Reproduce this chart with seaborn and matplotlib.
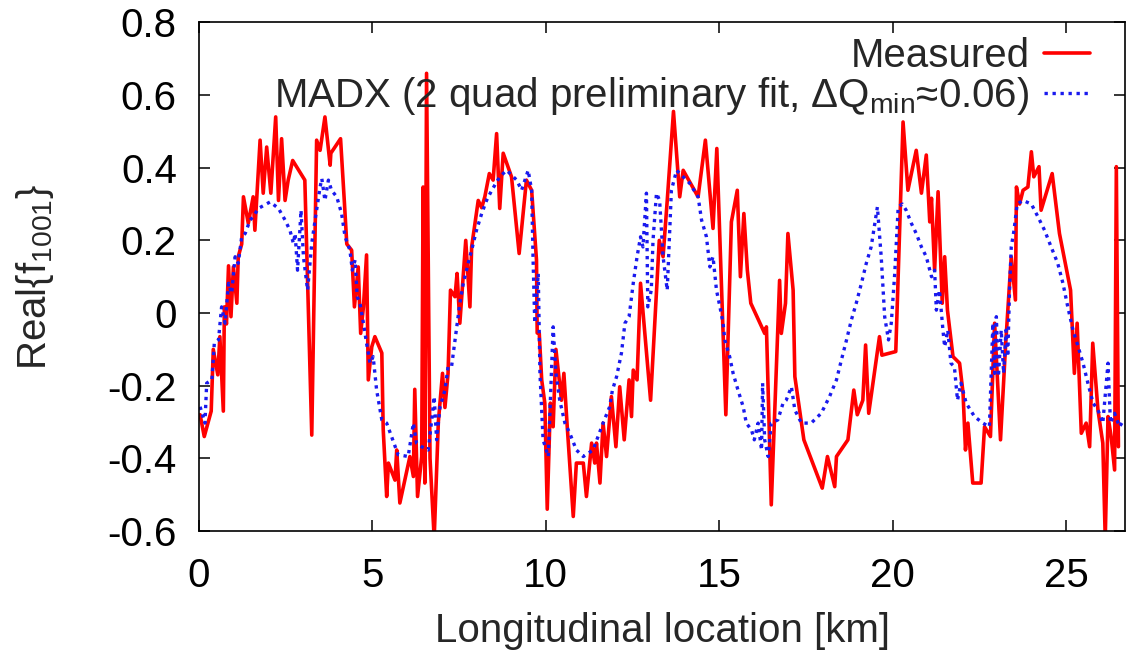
import matplotlib
matplotlib.use("Agg")
import matplotlib.pyplot as plt
import seaborn as sns
import pandas as pd
from matplotlib.ticker import FuncFormatter

# Measured coupling term along the ring
meas_s = [0.03, 0.15, 0.35, 0.41, 0.54, 0.60, 0.70, 0.73, 0.79, 0.85, 0.92, 0.99, 1.09, 1.13,
          1.23, 1.28, 1.42, 1.56, 1.61, 1.76, 1.85, 1.95, 2.07, 2.21, 2.29, 2.38, 2.48, 2.57,
          2.70, 3.05, 3.25, 3.39, 3.49, 3.63, 3.78, 3.80, 4.08, 4.19, 4.26, 4.40, 4.48, 4.59,
          4.66, 4.74, 4.83, 4.88, 4.98, 5.07, 5.27, 5.31, 5.41, 5.46, 5.65, 5.70, 5.79, 6.08,
          6.18, 6.22, 6.30, 6.42, 6.46, 6.51, 6.56, 6.66, 6.78, 6.90, 7.02, 7.09, 7.18, 7.25,
          7.38, 7.44, 7.52, 7.69, 7.81, 7.86, 8.05, 8.15, 8.24, 8.37, 8.48, 8.58, 8.67, 8.77,
          9.01, 9.23, 9.44, 9.59, 9.73, 9.75, 9.81, 9.88, 9.97, 10.04, 10.13, 10.21, 10.29,
          10.45, 10.52, 10.61, 10.79, 10.88, 11.08, 11.17, 11.32, 11.41, 11.46, 11.56, 11.65,
          11.75, 11.89, 12.02, 12.13, 12.26, 12.40, 12.47, 12.52, 12.63, 12.73, 13.02, 13.27,
          13.38, 13.50, 13.68, 13.86, 13.96, 14.39, 14.60, 14.82, 14.93, 15.19, 15.35, 15.52,
          15.61, 15.71, 15.81, 15.91, 16.31, 16.36, 16.50, 16.74, 16.79, 16.91, 16.98, 17.13,
          17.18, 17.44, 17.97, 18.12, 18.33, 18.38, 18.71, 18.88, 18.98, 19.14, 19.22, 19.31,
          19.62, 19.69, 20.09, 20.30, 20.44, 20.68, 20.83, 20.97, 21.07, 21.12, 21.21, 21.31,
          21.43, 21.50, 21.58, 21.74, 21.93, 22.03, 22.10, 22.17, 22.31, 22.55, 22.65, 22.82,
          22.94, 23.11, 23.26, 23.42, 23.54, 23.57, 23.66, 23.76, 23.90, 24.00, 24.07, 24.22,
          24.28, 24.60, 24.81, 25.13, 25.24, 25.32, 25.44, 25.58, 25.68, 25.77, 25.92, 26.06,
          26.13, 26.21, 26.30, 26.40, 26.45, 26.51]
meas_re = [-0.28, -0.34, -0.27, -0.10, -0.17, -0.065, -0.27, 0.017, -0.03, 0.13, -0.01, 0.127,
           0.027, 0.155, 0.19, 0.32, 0.247, 0.32, 0.228, 0.476, 0.33, 0.457, 0.33, 0.54, 0.31,
           0.48, 0.31, 0.366, 0.42, 0.366, -0.336, 0.476, 0.448, 0.54, 0.407, 0.44, 0.48, 0.306,
           0.19, 0.173, 0.017, 0.127, -0.056, 0.017, 0.16, -0.184, -0.093, -0.065, -0.11, -0.32,
           -0.505, -0.413, -0.46, -0.377, -0.523, -0.395, -0.45, -0.21, -0.505, -0.395, 0.347,
           -0.468, 0.66, -0.40, -0.62, -0.30, -0.166, -0.26, -0.166, 0.063, 0.045, 0.109, -0.028,
           0.20, 0.017, 0.182, 0.31, 0.29, 0.32, 0.384, 0.366, 0.494, 0.288, 0.44, 0.375, 0.164,
           0.366, 0.338, 0.146, -0.055, -0.056, -0.184, -0.248, -0.54, -0.248, -0.313, -0.10,
           -0.24, -0.166, -0.303, -0.56, -0.413, -0.413, -0.505, -0.358, -0.413, -0.358, -0.468,
           -0.303, -0.395, -0.23, -0.368, -0.203, -0.349, -0.184, -0.285, -0.157, -0.184, 0.082,
           -0.24, 0.20, 0.155, 0.31, 0.555, 0.32, 0.393, 0.32, 0.476, 0.233, 0.453, -0.28, 0.251,
           0.338, 0.10, 0.274, 0.118, 0.027, -0.056, -0.038, -0.528, 0.09, -0.056, 0.027, 0.219,
           0.063, -0.175, -0.349, -0.482, -0.395, -0.478, -0.395, -0.349, -0.212, -0.28, -0.24,
           -0.088, -0.276, -0.065, -0.116, -0.106, 0.526, 0.338, 0.448, 0.33, 0.435, 0.251, 0.316,
           0.118, 0.334, 0.027, 0.155, 0.008, -0.12, -0.138, -0.22, -0.377, -0.303, -0.468,
           -0.468, -0.313, -0.34, -0.028, -0.349, -0.083, 0.155, 0.036, 0.347, 0.30, 0.338, 0.347,
           0.444, 0.375, 0.403, 0.283, 0.384, 0.219, 0.063, -0.166, -0.028, -0.331, -0.303,
           -0.368, -0.083, -0.267, -0.358, -0.62, -0.285, -0.34, -0.432, 0.403, -0.368]

# MADX model prediction
madx_s = [0.03, 0.17, 0.22, 0.37, 0.44, 0.56, 0.65, 0.75, 0.85, 0.94, 1.04, 1.13, 1.23, 1.33,
          1.47, 1.56, 1.71, 2.05, 2.29, 2.48, 2.62, 2.72, 2.77, 2.84, 2.94, 3.01, 3.13, 3.25,
          3.36, 3.49, 3.54, 3.63, 3.73, 3.82, 3.97, 4.11, 4.21, 4.35, 4.42, 4.50, 4.56, 4.64,
          4.74, 4.83, 4.93, 5.02, 5.12, 5.27, 5.41, 5.55, 5.74, 6.03, 6.18, 6.27, 6.42, 6.61,
          6.72, 6.78, 6.85, 6.95, 7.09, 7.18, 7.28, 7.43, 7.52, 7.62, 7.76, 7.86, 8.00, 8.15,
          8.29, 8.44, 8.67, 8.87, 9.16, 9.30, 9.49, 9.59, 9.63, 9.68, 9.78, 9.83, 9.92, 10.07,
          10.21, 10.29, 10.40, 10.55, 10.69, 10.88, 11.08, 11.36, 11.65, 11.84, 11.92, 12.04,
          12.18, 12.28, 12.40, 12.52, 12.63, 12.73, 12.80, 12.90, 12.94, 13.04, 13.09, 13.19,
          13.28, 13.38, 13.50, 13.62, 13.77, 13.96, 14.15, 14.39, 14.49, 14.63, 14.73, 14.82,
          14.92, 15.02, 15.11, 15.16, 15.30, 15.40, 15.54, 15.69, 15.78, 15.93, 16.01, 16.12,
          16.22, 16.25, 16.31, 16.41, 16.50, 16.69, 16.84, 16.93, 17.08, 17.18, 17.37, 17.65,
          17.94, 18.18, 18.38, 18.52, 18.67, 18.81, 18.95, 19.10, 19.24, 19.38, 19.56, 19.67,
          19.77, 19.88, 19.96, 20.06, 20.16, 20.28, 20.39, 20.54, 20.68, 20.83, 20.97, 21.12,
          21.21, 21.26, 21.35, 21.45, 21.50, 21.59, 21.68, 21.78, 21.87, 21.97, 22.12, 22.36,
          22.60, 22.79, 22.89, 22.94, 22.99, 23.05, 23.13, 23.20, 23.27, 23.32, 23.37, 23.42,
          23.50, 23.59, 23.76, 24.00, 24.19, 24.38, 24.57, 24.76, 24.91, 25.05, 25.20, 25.35,
          25.49, 25.63, 25.78, 25.92, 26.06, 26.21, 26.28, 26.40, 26.54, 26.67]
madx_re = [-0.258, -0.303, -0.193, -0.184, -0.083, -0.074, 0.017, -0.028, 0.082, 0.054, 0.155,
           0.137, 0.21, 0.219, 0.256, 0.265, 0.288, 0.306, 0.288, 0.256, 0.228, 0.192, 0.219,
           0.118, 0.283, 0.155, 0.063, 0.192, 0.265, 0.347, 0.37, 0.31, 0.366, 0.338, 0.32,
           0.274, 0.21, 0.173, 0.118, 0.146, 0.045, 0.027, -0.028, -0.083, -0.138, -0.12,
           -0.212, -0.294, -0.303, -0.34, -0.39, -0.395, -0.303, -0.358, -0.368, -0.377,
           -0.285, -0.23, -0.349, -0.258, -0.212, -0.148, -0.148, -0.038, 0.027, 0.082, 0.137,
           0.173, 0.228, 0.274, 0.31, 0.338, 0.375, 0.393, 0.366, 0.338, 0.393, 0.338, 0.155,
           -0.028, 0.109, -0.166, -0.349, -0.395, -0.038, -0.166, -0.24, -0.303, -0.331,
           -0.377, -0.395, -0.377, -0.303, -0.258, -0.212, -0.175, -0.11, -0.028, -0.01, 0.082,
           0.155, 0.21, 0.182, 0.33, 0.017, 0.063, 0.20, 0.33, 0.31, 0.155, 0.063, 0.338,
           0.393, 0.375, 0.357, 0.32, 0.256, 0.21, 0.127, 0.155, 0.063, 0.017, -0.028, -0.074,
           -0.12, -0.166, -0.212, -0.258, -0.303, -0.322, -0.349, -0.303, -0.377, -0.193,
           -0.349, -0.395, -0.303, -0.294, -0.248, -0.24, -0.203, -0.267, -0.303, -0.303,
           -0.276, -0.23, -0.184, -0.13, -0.074, -0.019, 0.027, 0.082, 0.137, 0.182, 0.292,
           0.155, -0.01, -0.074, -0.028, 0.109, 0.292, 0.30, 0.283, 0.247, 0.219, 0.182, 0.155,
           0.10, 0.118, 0.008, 0.063, -0.047, -0.093, -0.047, -0.138, -0.148, -0.24, -0.193,
           -0.248, -0.285, -0.303, -0.313, -0.028, -0.166, -0.01, -0.175, -0.047, -0.166,
           -0.047, -0.12, 0.063, 0.182, 0.228, 0.30, 0.31, 0.30, 0.265, 0.228, 0.182, 0.137,
           0.082, 0.017, -0.047, -0.093, -0.138, -0.193, -0.248, -0.267, -0.303, -0.138,
           -0.303, -0.276, -0.313, -0.294]

x_ticks = [0, 5, 10, 15, 20, 25]
y_ticks = [-0.6, -0.4, -0.2, 0, 0.2, 0.4, 0.6, 0.8]

meas = pd.DataFrame({"s": meas_s, "re": meas_re})
madx = pd.DataFrame({"s": madx_s, "re": madx_re})

sns.set_style("white")
plt.rcParams["font.family"] = ["Liberation Sans", "DejaVu Sans"]
plt.rcParams["mathtext.fontset"] = "custom"
plt.rcParams["mathtext.rm"] = "Liberation Sans"
plt.rcParams["mathtext.it"] = "Liberation Sans:italic"
plt.rcParams["axes.unicode_minus"] = False

FS = 29

fig = plt.figure(figsize=(11.31, 6.57), dpi=100)
ax = fig.add_axes([0.1760, 0.1918, 0.8187, 0.7740])

sns.lineplot(data=meas, x="s", y="re", sort=False, estimator=None, ax=ax,
             color="#ff0000", lw=2.6, label="Measured")
sns.lineplot(data=madx, x="s", y="re", sort=False, estimator=None, ax=ax,
             color="#1a1aee", lw=2.4, linestyle=(0, (1, 1.4)),
             label=r"MADX (2 quad preliminary fit, ΔQ$_{\mathrm{min}}$≈0.06)")

ax.set_xlim(0, 26.7)
ax.set_ylim(-0.6, 0.8)
ax.set_xticks(x_ticks)
ax.set_yticks(y_ticks)
ax.yaxis.set_major_formatter(FuncFormatter(lambda v, p: "%g" % round(v, 2)))
ax.tick_params(direction="in", length=8, width=1.1, labelsize=FS,
               top=True, right=True, bottom=True, left=True, colors="black")
ax.tick_params(axis="y", pad=16)
ax.tick_params(axis="x", pad=19)
for sp in ax.spines.values():
    sp.set_visible(True)
    sp.set_color("black")
    sp.set_linewidth(1.2)

ax.set_xlabel("Longitudinal location [km]", fontsize=FS, labelpad=12)
ax.set_ylabel(r"Real{f$_{\mathrm{1001}}$}", fontsize=FS, labelpad=37)

ax.legend(loc="upper right", bbox_to_anchor=(0.962, 0.972), frameon=False,
          markerfirst=False, fontsize=FS, handlelength=1.15, handletextpad=0.35,
          labelspacing=0.0, borderpad=0, borderaxespad=0)

fig.savefig("out.png", dpi=100)
